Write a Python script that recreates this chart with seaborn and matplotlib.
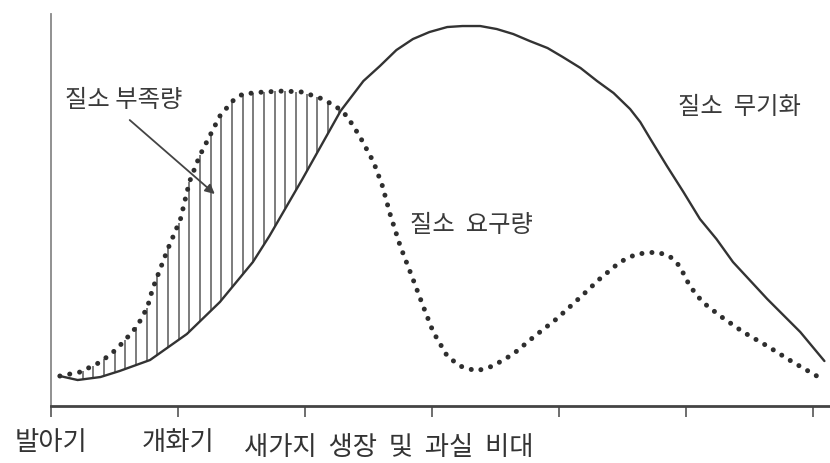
import numpy as np
import pandas as pd
import seaborn as sns
import matplotlib.pyplot as plt

# stage axis: 0 = 발아기, 1 = 개화기, ... (relative units)
supply_x = [0.07, 0.21, 0.39, 0.54, 0.78, 1.07, 1.33, 1.59, 1.72, 1.98,
            2.28, 2.46, 2.59, 2.72, 2.85, 2.98, 3.12, 3.24, 3.38, 3.51,
            3.64, 3.77, 3.91, 4.03, 4.17, 4.30, 4.43, 4.56, 4.64,
            4.72, 4.85, 4.98, 5.11, 5.24, 5.37, 5.64, 5.90, 6.09]
supply_y = [7.5, 6.5, 7.25, 8.75, 11.5, 18, 26, 36, 42.5, 56.75,
            73.75, 81.25, 85, 89, 91.75, 93.5, 94.75, 95, 95, 94.25,
            93, 91.25, 89.5, 87.25, 84.5, 81.25, 78.25, 74.25, 71,
            66.75, 60, 53.5, 46.75, 41.75, 36, 26.75, 18.5, 11.25]

demand_x = [0.07, 0.23, 0.39, 0.49, 0.57, 0.68, 0.76, 0.80, 0.86, 0.92,
            1.02, 1.09, 1.17, 1.25, 1.33, 1.43, 1.51, 1.67, 1.83, 1.98,
            2.14, 2.25, 2.33, 2.43, 2.54, 2.61, 2.67, 2.75, 2.85, 2.93,
            3.01, 3.12, 3.22, 3.35, 3.48, 3.64, 3.80, 3.98, 4.17, 4.32,
            4.48, 4.61, 4.77, 4.87, 4.95, 5.03, 5.13, 5.27, 5.45, 5.64,
            5.84, 6.03]
demand_y = [7.5, 8.5, 11, 13.5, 16, 20, 24.75, 29.25, 34.25, 39.25,
            46.75, 56, 62.5, 67.5, 72.5, 76.25, 78, 78.5, 78.75, 78.5,
            76.75, 74.75, 72.5, 67.5, 61, 55, 48, 40, 31.75, 25,
            18.5, 12.5, 10, 8.75, 10, 13, 17.25, 21.75, 27.25, 31.75,
            36, 38, 38.5, 37.5, 35, 30, 26, 22.5, 18.5, 15,
            11, 7.5]

stage_ticks = [0, 1, 2, 3, 4, 5, 6]
stage_labels = ['발아기', '개화기', '', '', '', '', '']
stage_long = '새가지  생장  및  과실  비대'

supply = pd.DataFrame({'x': supply_x, 'y': supply_y})
demand = pd.DataFrame({'x': demand_x, 'y': demand_y})

sns.set_theme(style='white')
plt.rcParams['font.family'] = ['Noto Sans CJK KR', 'DejaVu Sans']

fig = plt.figure(figsize=(8.3, 4.64), dpi=100)
ax = fig.add_axes([0.0614, 0.1228, 0.9386, 0.8448])

# shortage area: vertical hatch lines between demand (top) and supply (bottom)
hx = np.arange(0.25, 2.27, 0.084)
ax.vlines(hx, np.interp(hx, supply_x, supply_y), np.interp(hx, demand_x, demand_y),
          color='#666666', lw=1.2, zorder=1)

sns.lineplot(data=supply, x='x', y='y', sort=False, color='#333333', lw=1.7, ax=ax, zorder=3)
sns.lineplot(data=demand, x='x', y='y', sort=False, color='#2e2e2e', lw=3.6,
             dashes=False, linestyle=(0, (0.01, 2.0)), dash_capstyle='round',
             ax=ax, zorder=4)

ax.set_xlim(0, 6.134)
ax.set_ylim(0, 98)
ax.set_xlabel('')
ax.set_ylabel('')
ax.set_yticks([])
ax.set_xticks(stage_ticks)
ax.set_xticklabels(stage_labels, fontsize=19, color='#333333')
ax.tick_params(axis='x', direction='out', length=8, width=1.2, color='#555555',
               pad=7.5, bottom=True)

for s in ['top', 'right']:
    ax.spines[s].set_visible(False)
ax.spines['bottom'].set_color('#444444')
ax.spines['bottom'].set_linewidth(2)
ax.spines['left'].set_color('#888888')
ax.spines['left'].set_linewidth(1.3)

ax.text(1.52, -0.069, stage_long, transform=ax.get_xaxis_transform(),
        ha='left', va='top', fontsize=19, color='#333333')

ax.text(0.11, 76.75, '질소 부족량', ha='left', va='center', fontsize=17.5, color='#3a3a3a')
ax.text(2.83, 45.5, '질소  요구량', ha='left', va='center', fontsize=17.5, color='#3a3a3a')
ax.text(4.94, 75, '질소  무기화', ha='left', va='center', fontsize=17.5, color='#3a3a3a')

ax.annotate('', xy=(1.29, 53), xytext=(0.62, 71.5),
            arrowprops=dict(arrowstyle='-|>', color='#444444', lw=1.3,
                            mutation_scale=14, shrinkA=0, shrinkB=0))

fig.savefig('out.png', dpi=100)
